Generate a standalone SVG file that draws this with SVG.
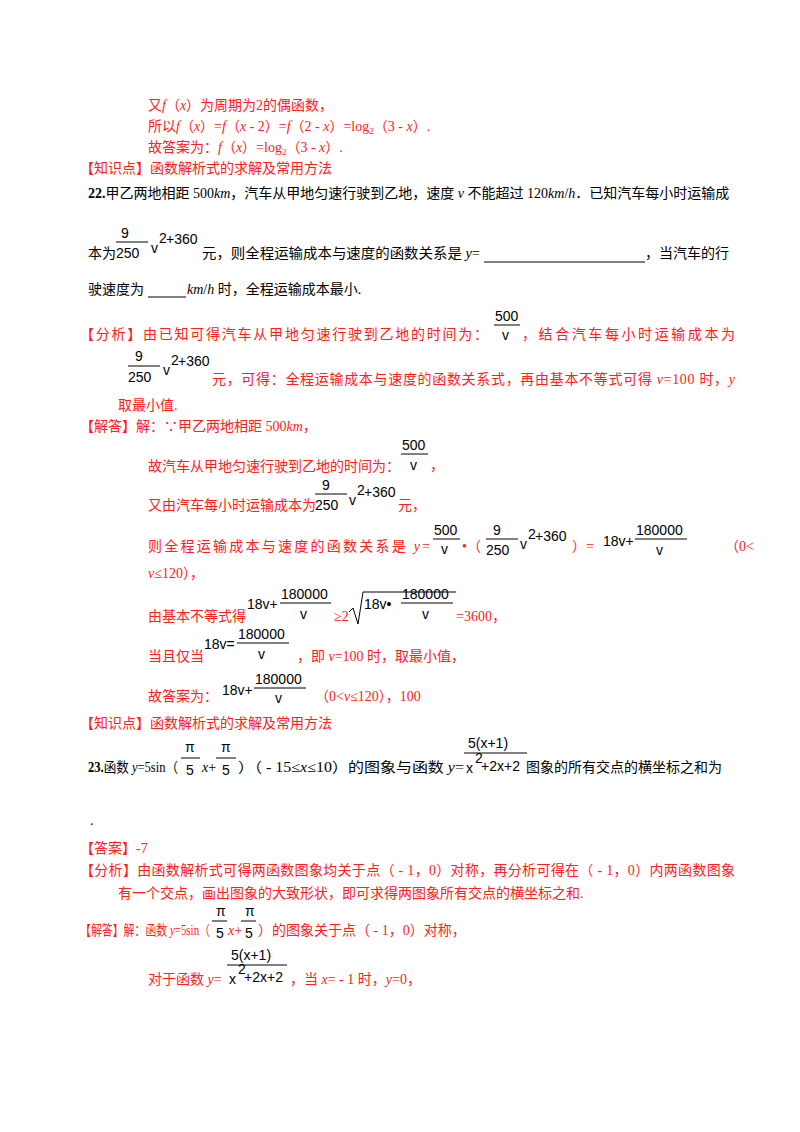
<svg xmlns="http://www.w3.org/2000/svg" width="800" height="1132" viewBox="0 0 800 1132">
<style>
text{font-family:"Liberation Serif","Noto Sans CJK SC",serif;font-size:14px}
.r{fill:#ff2020}
.k{fill:#000}
.m{font-family:"Liberation Sans",sans-serif;font-size:14px;fill:#000}
.i{font-style:italic}
line{stroke:#000;stroke-width:1}
</style>
<rect width="800" height="1132" fill="#fff"/>
<g class="r">
<text x="148" y="110" class="r">又<tspan class="i">f</tspan>（<tspan class="i">x</tspan>）为周期为2的偶函数，</text>
<text x="148" y="131" class="r">所以<tspan class="i">f</tspan>（<tspan class="i">x</tspan>）=<tspan class="i">f</tspan>（<tspan class="i">x</tspan> - 2）=<tspan class="i">f</tspan>（2 - <tspan class="i">x</tspan>）=log<tspan font-size="9" dy="3">2</tspan><tspan dy="-3">（3 - </tspan><tspan class="i">x</tspan>）.</text>
<text x="148" y="152" class="r">故答案为：<tspan class="i">f</tspan>（<tspan class="i">x</tspan>）=log<tspan font-size="9" dy="3">2</tspan><tspan dy="-3">（3 - </tspan><tspan class="i">x</tspan>）.</text>
<text x="80" y="173" class="r">【知识点】函数解析式的求解及常用方法</text>
</g>
<text x="88" y="198" class="k" font-weight="bold">22.<tspan font-weight="normal">甲乙两地相距 500<tspan class="i">km</tspan>，汽车从甲地匀速行驶到乙地，速度 <tspan class="i">v</tspan> 不能超过 120<tspan class="i">km</tspan>/<tspan class="i">h</tspan>．已知汽车每小时运输成</tspan></text>
<text x="88" y="258" class="k">本为</text>
<text x="121" y="238" class="m">9</text><line x1="116" y1="242" x2="148" y2="242"/><text x="116" y="258" class="m">250</text>
<text x="151" y="253" class="m">v</text><text x="159" y="243" class="m" font-size="10">2</text><text x="166" y="244" class="m">+360</text>
<text x="202" y="258" class="k" textLength="278" lengthAdjust="spacingAndGlyphs">元，则全程运输成本与速度的函数关系是 <tspan class="i">y</tspan>=</text>
<line x1="484" y1="262" x2="645" y2="262"/>
<text x="645" y="258" class="k">，当汽车的行</text>
<text x="88" y="294" class="k">驶速度为</text><line x1="148" y1="297" x2="186" y2="297"/><text x="187" y="294" class="k"><tspan class="i">km</tspan>/<tspan class="i">h</tspan> 时，全程运输成本最小.</text>

<text x="80" y="339" class="r" textLength="408" lengthAdjust="spacing">【分析】由已知可得汽车从甲地匀速行驶到乙地的时间为：</text>
<text x="495" y="321" class="m">500</text><line x1="494" y1="325" x2="520" y2="325"/><text x="502" y="340" class="m">v</text>
<text x="522" y="339" class="r" textLength="213" lengthAdjust="spacing">，结合汽车每小时运输成本为</text>
<text x="135" y="361" class="m">9</text><line x1="128" y1="366" x2="160" y2="366"/><text x="128" y="382" class="m">250</text>
<text x="163" y="375" class="m">v</text><text x="171" y="365" class="m" font-size="10">2</text><text x="178" y="366" class="m">+360</text>
<text x="212" y="384" class="r" textLength="523" lengthAdjust="spacing">元，可得：全程运输成本与速度的函数关系式，再由基本不等式可得 <tspan class="i">v</tspan>=100 时，<tspan class="i">y</tspan></text>
<text x="118" y="410" class="r">取最小值.</text>
<text x="80" y="431" class="r">【解答】解：∵甲乙两地相距 500<tspan class="i">km</tspan>，</text>
<text x="148" y="471" class="r">故汽车从甲地匀速行驶到乙地的时间为：</text>
<text x="402" y="450" class="m">500</text><line x1="401" y1="454" x2="428" y2="454"/><text x="410" y="470" class="m">v</text>
<text x="430" y="470" class="r">，</text>
<text x="148" y="510" class="r">又由汽车每小时运输成本为</text>
<text x="322" y="490" class="m">9</text><line x1="315" y1="494" x2="347" y2="494"/><text x="315" y="510" class="m">250</text>
<text x="349" y="505" class="m">v</text><text x="357" y="495" class="m" font-size="10">2</text><text x="364" y="497" class="m">+360</text>
<text x="398" y="510" class="r">元，</text>

<text x="148" y="551" class="r" textLength="282" lengthAdjust="spacing">则全程运输成本与速度的函数关系是 <tspan class="i">y</tspan>=</text>
<text x="434" y="535" class="m">500</text><line x1="433" y1="539" x2="460" y2="539"/><text x="441" y="554" class="m">v</text>
<text x="462" y="551" class="r">•（</text>
<text x="493" y="535" class="m">9</text><line x1="486" y1="539" x2="518" y2="539"/><text x="486" y="555" class="m">250</text>
<text x="520" y="549" class="m">v</text><text x="528" y="539" class="m" font-size="10">2</text><text x="535" y="541" class="m">+360</text>
<text x="572" y="551" class="r">）=</text>
<text x="603" y="546" class="m">18v+</text>
<text x="636" y="535" class="m">180000</text><line x1="635" y1="539" x2="687" y2="539"/><text x="656" y="555" class="m">v</text>
<text x="725" y="551" class="r">（0&lt;</text>
<text x="148" y="578" class="r"><tspan class="i">v</tspan>≤120），</text>

<text x="148" y="621" class="r">由基本不等式得</text>
<text x="247" y="609" class="m">18v+</text>
<text x="281" y="599" class="m">180000</text><line x1="280" y1="603" x2="331" y2="603"/><text x="300" y="619" class="m">v</text>
<text x="334" y="621" class="r">≥2</text>
<path d="M349 612 L353 608 L358 624 L363 592 L456 592" fill="none" stroke="#000"/>
<text x="364" y="609" class="m">18v•</text>
<text x="402" y="599" class="m">180000</text><line x1="401" y1="603" x2="453" y2="603"/><text x="422" y="619" class="m">v</text>
<text x="456" y="621" class="r">=3600，</text>

<text x="148" y="661" class="r">当且仅当</text>
<text x="204" y="649" class="m">18v=</text>
<text x="238" y="639" class="m">180000</text><line x1="237" y1="643" x2="289" y2="643"/><text x="258" y="659" class="m">v</text>
<text x="297" y="661" class="r">，即 <tspan class="i">v</tspan>=100 时，取最小值，</text>

<text x="148" y="701" class="r">故答案为：</text>
<text x="222" y="695" class="m">18v+</text>
<text x="255" y="684" class="m">180000</text><line x1="254" y1="688" x2="306" y2="688"/><text x="275" y="703" class="m">v</text>
<text x="315" y="701" class="r">（0&lt;<tspan class="i">v</tspan>≤120），100</text>
<text x="80" y="728" class="r">【知识点】函数解析式的求解及常用方法</text>

<text x="88" y="772" class="k" font-weight="bold" textLength="90" lengthAdjust="spacingAndGlyphs">23.<tspan font-weight="normal">函数 <tspan class="i">y</tspan>=5sin（</tspan></text>
<text x="185" y="752" class="m">π</text><line x1="181" y1="758" x2="200" y2="758"/><text x="186" y="775" class="m">5</text>
<text x="202" y="772" class="k"><tspan class="i">x</tspan>+</text>
<text x="221" y="752" class="m">π</text><line x1="216" y1="758" x2="236" y2="758"/><text x="222" y="775" class="m">5</text>
<text x="238" y="772" class="k" textLength="226" lengthAdjust="spacingAndGlyphs">）（ - 15≤<tspan class="i">x</tspan>≤10）的图象与函数 <tspan class="i">y</tspan>=</text>
<text x="468" y="748" class="m">5(x+1)</text><line x1="464" y1="753" x2="527" y2="753"/>
<text x="466" y="773" class="m">x</text><text x="475" y="763" class="m" font-size="10">2</text><text x="481" y="771" class="m">+2x+2</text>
<text x="526" y="772" class="k">图象的所有交点的横坐标之和为</text>
<text x="90" y="825" class="k">.</text>

<text x="80" y="853" class="r">【答案】-7</text>
<text x="80" y="875" class="r" textLength="655" lengthAdjust="spacing">【分析】由函数解析式可得两函数图象均关于点（ - 1，0）对称，再分析可得在（ - 1，0）内两函数图象</text>
<text x="118" y="898" class="r">有一个交点，画出图象的大致形状，即可求得两图象所有交点的横坐标之和.</text>
<text x="80" y="935" class="r" font-size="13" textLength="130" lengthAdjust="spacingAndGlyphs">【解答】解：函数 <tspan class="i">y</tspan>=5sin（</text>
<text x="216" y="916" class="m">π</text><line x1="212" y1="921" x2="227" y2="921"/><text x="216" y="938" class="m">5</text>
<text x="228" y="935" class="r"><tspan class="i">x</tspan>+</text>
<text x="245" y="916" class="m">π</text><line x1="241" y1="921" x2="256" y2="921"/><text x="245" y="938" class="m">5</text>
<text x="258" y="935" class="r">）的图象关于点（ - 1，0）对称，</text>
<text x="148" y="984" class="r">对于函数 <tspan class="i">y</tspan>=</text>
<text x="231" y="960" class="m">5(x+1)</text><line x1="227" y1="965" x2="287" y2="965"/>
<text x="229" y="984" class="m">x</text><text x="238" y="974" class="m" font-size="10">2</text><text x="244" y="982" class="m">+2x+2</text>
<text x="290" y="984" class="r">，当 <tspan class="i">x</tspan>= - 1 时，<tspan class="i">y</tspan>=0，</text>
</svg>
